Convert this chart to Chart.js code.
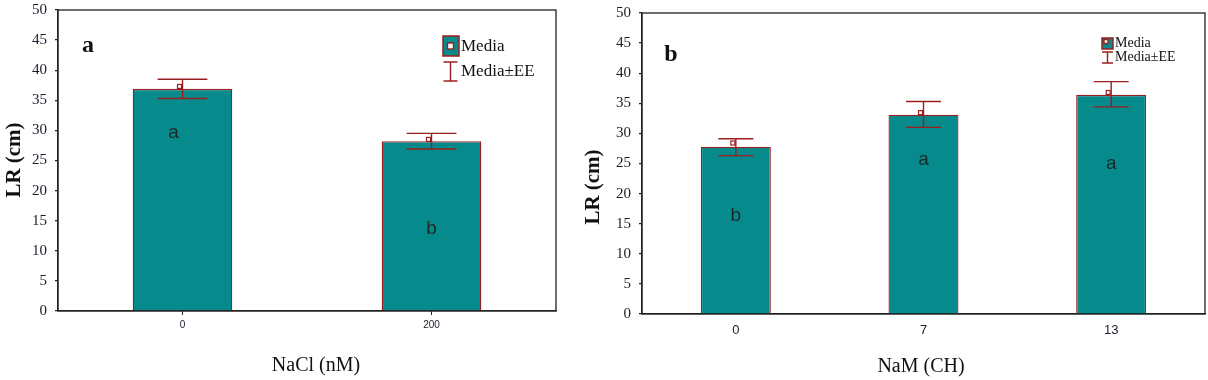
<!DOCTYPE html>
<html lang="en">
<head>
  <meta charset="UTF-8" />
  <title>LR (cm)</title>
  <script src="https://cdn.jsdelivr.net/npm/chart.js"></script>
  <style>
    body { margin: 0; background: #fff; }
    .wrap { position: relative; width: 1208px; height: 380px; }
    #chartA { position: absolute; left: 0; top: 0; }
    #chartB { position: absolute; left: 580px; top: 0; }
  </style>
</head>
<body>
  <div class="wrap">
    <canvas id="chartA" width="580" height="380"></canvas>
    <canvas id="chartB" width="628" height="380"></canvas>
  </div>

<script>
// panel a - NaCl (nM)
const naclLabels = ['0', '200'];
const naclMean = [36.9, 28.2];
const naclUpper = [38.5, 29.5];
const naclLower = [35.3, 26.9];
const naclMarker = [37.3, 28.5];
const naclLetters = ['a', 'b'];

// panel b - NaM (CH)
const namLabels = ['0', '7', '13'];
const namMean = [27.8, 33.1, 36.4];
const namUpper = [29.1, 35.3, 38.6];
const namLower = [26.3, 31.0, 34.4];
const namMarker = [28.4, 33.45, 36.8];
const namLetters = ['b', 'a', 'a'];

const yMin = 0, yMax = 50, yStep = 5;

const TEAL = '#078a8c';
const RED = '#9c1f1f';
const INK = '#1c1c2c';

// error bars, mean squares, letters, frame, titles and legend
const decor = {
  id: 'decor',
  afterDatasetsDraw(chart, args, o) {
    const { ctx, chartArea: ca } = chart;
    const y = chart.scales.y;
    const meta = chart.getDatasetMeta(0);
    ctx.save();

    meta.data.forEach((bar, i) => {
      const cx = bar.x, half = bar.width / 4;
      const yu = y.getPixelForValue(o.upper[i]);
      const yl = y.getPixelForValue(o.lower[i]);
      ctx.strokeStyle = RED;
      ctx.lineWidth = 1.4;
      ctx.beginPath();
      ctx.moveTo(cx, yu); ctx.lineTo(cx, yl);
      ctx.moveTo(cx - half, yu); ctx.lineTo(cx + half, yu);
      ctx.moveTo(cx - half, yl); ctx.lineTo(cx + half, yl);
      ctx.stroke();

      const ym = y.getPixelForValue(o.marker[i]);
      ctx.fillStyle = '#fff';
      ctx.lineWidth = 1.2;
      ctx.fillRect(cx - 5, ym - 2, 4, 4);
      ctx.strokeRect(cx - 5, ym - 2, 4, 4);

      ctx.fillStyle = '#1b2828';
      ctx.font = '19px "Liberation Sans"';
      ctx.textAlign = 'center';
      ctx.textBaseline = 'middle';
      ctx.fillText(o.letters[i], cx + o.letterDx[i], y.getPixelForValue(o.letterAt[i]));
    });

    // frame round the plot
    ctx.strokeStyle = '#222';
    ctx.lineWidth = 1.3;
    ctx.strokeRect(ca.left, ca.top, ca.right - ca.left, ca.bottom - ca.top);

    // panel letter
    ctx.fillStyle = '#111';
    ctx.font = 'bold 24px "Liberation Serif"';
    ctx.textAlign = 'center';
    ctx.textBaseline = 'middle';
    ctx.fillText(o.panel.text, o.panel.x, o.panel.y);

    // x title
    ctx.font = '20px "Liberation Serif"';
    ctx.fillText(o.xTitle.text, o.xTitle.x, o.xTitle.y);

    // y title
    ctx.save();
    ctx.translate(o.yTitle.x, o.yTitle.y);
    ctx.rotate(-Math.PI / 2);
    ctx.font = 'bold 21px "Liberation Serif"';
    ctx.fillText(o.yTitle.text, 0, 0);
    ctx.restore();

    // legend
    const L = o.legend;
    ctx.fillStyle = TEAL;
    ctx.fillRect(L.box.x, L.box.y, L.box.w, L.box.h);
    ctx.strokeStyle = RED;
    ctx.lineWidth = 1.5;
    ctx.strokeRect(L.box.x, L.box.y, L.box.w, L.box.h);
    ctx.fillStyle = '#fff';
    ctx.fillRect(L.inner.x, L.inner.y, L.inner.s, L.inner.s);
    ctx.lineWidth = 1.4;
    ctx.strokeRect(L.inner.x, L.inner.y, L.inner.s, L.inner.s);
    ctx.beginPath();
    ctx.moveTo(L.beam.x, L.beam.y1); ctx.lineTo(L.beam.x, L.beam.y2);
    ctx.moveTo(L.beam.x - L.beam.half, L.beam.y1); ctx.lineTo(L.beam.x + L.beam.half, L.beam.y1);
    ctx.moveTo(L.beam.x - L.beam.half, L.beam.y2); ctx.lineTo(L.beam.x + L.beam.half, L.beam.y2);
    ctx.stroke();
    ctx.fillStyle = '#111';
    ctx.font = L.size + 'px "Liberation Serif"';
    ctx.textAlign = 'left';
    ctx.fillText('Media', L.textX, L.row1);
    ctx.fillText('Media\u00b1EE', L.textX, L.row2);

    ctx.restore();
  }
};

function makeChart(id, labels, mean, cfg) {
  return new Chart(document.getElementById(id), {
    type: 'bar',
    data: {
      labels: labels,
      datasets: [{
        data: mean,
        backgroundColor: TEAL,
        borderColor: RED,
        borderWidth: 1.3,
        barPercentage: cfg.barPct,
        categoryPercentage: 1.0
      }]
    },
    options: {
      responsive: false,
      animation: false,
      devicePixelRatio: 1,
      layout: { padding: cfg.padding },
      plugins: {
        legend: { display: false },
        tooltip: { enabled: false },
        decor: cfg.decor
      },
      scales: {
        x: {
          grid: cfg.xGrid,
          border: { color: '#222', width: 1.3 },
          ticks: { color: INK, font: { family: 'Liberation Sans', size: cfg.xFont }, padding: cfg.xPad },
          afterFit: s => { s.height = cfg.xHeight; s.paddingLeft = 0; s.paddingRight = 0; }
        },
        y: {
          min: yMin,
          max: yMax,
          ticks: { stepSize: yStep, color: INK, font: { family: 'Liberation Serif', size: 15 }, padding: 8 },
          grid: { drawOnChartArea: false, tickLength: 3, color: '#222', lineWidth: 1.2 },
          border: { color: '#222', width: 1.3 },
          afterFit: s => { s.width = cfg.yWidth; s.paddingTop = 0; s.paddingBottom = 0; }
        }
      }
    },
    plugins: [decor]
  });
}

makeChart('chartA', naclLabels, naclMean, {
  barPct: 0.4,
  padding: { top: 10, right: 24, left: 0, bottom: 0 },
  xGrid: { display: true, offset: false, drawOnChartArea: false, tickLength: 4, color: '#222' },
  xFont: 10, xPad: 4, xHeight: 69, yWidth: 58,
  decor: {
    upper: naclUpper, lower: naclLower, marker: naclMarker,
    letters: naclLetters, letterAt: [29.6, 13.6], letterDx: [-9, 0],
    panel: { text: 'a', x: 88, y: 46 },
    xTitle: { text: 'NaCl (nM)', x: 316, y: 366 },
    yTitle: { text: 'LR (cm)', x: 15, y: 160 },
    legend: {
      box: { x: 443, y: 36, w: 16, h: 20 },
      inner: { x: 447.5, y: 43, s: 6 },
      beam: { x: 450.5, y1: 62, y2: 81, half: 7 },
      size: 17, textX: 461, row1: 47, row2: 72
    }
  }
});

makeChart('chartB', namLabels, namMean, {
  barPct: 0.373,
  padding: { top: 13, right: 3, left: 0, bottom: 0 },
  xGrid: { display: false, drawTicks: false },
  xFont: 13, xPad: 9, xHeight: 66, yWidth: 62,
  decor: {
    upper: namUpper, lower: namLower, marker: namMarker,
    letters: namLetters, letterAt: [16.3, 25.7, 24.9], letterDx: [0, 0, 0],
    panel: { text: 'b', x: 91, y: 55 },
    xTitle: { text: 'NaM (CH)', x: 341, y: 367 },
    yTitle: { text: 'LR (cm)', x: 14, y: 187 },
    legend: {
      box: { x: 522, y: 38, w: 11, h: 11 },
      inner: { x: 524, y: 39.5, s: 4 },
      beam: { x: 527.5, y1: 52, y2: 63, half: 5.5 },
      size: 14, textX: 535, row1: 43, row2: 57
    }
  }
});
</script>
</body>
</html>
